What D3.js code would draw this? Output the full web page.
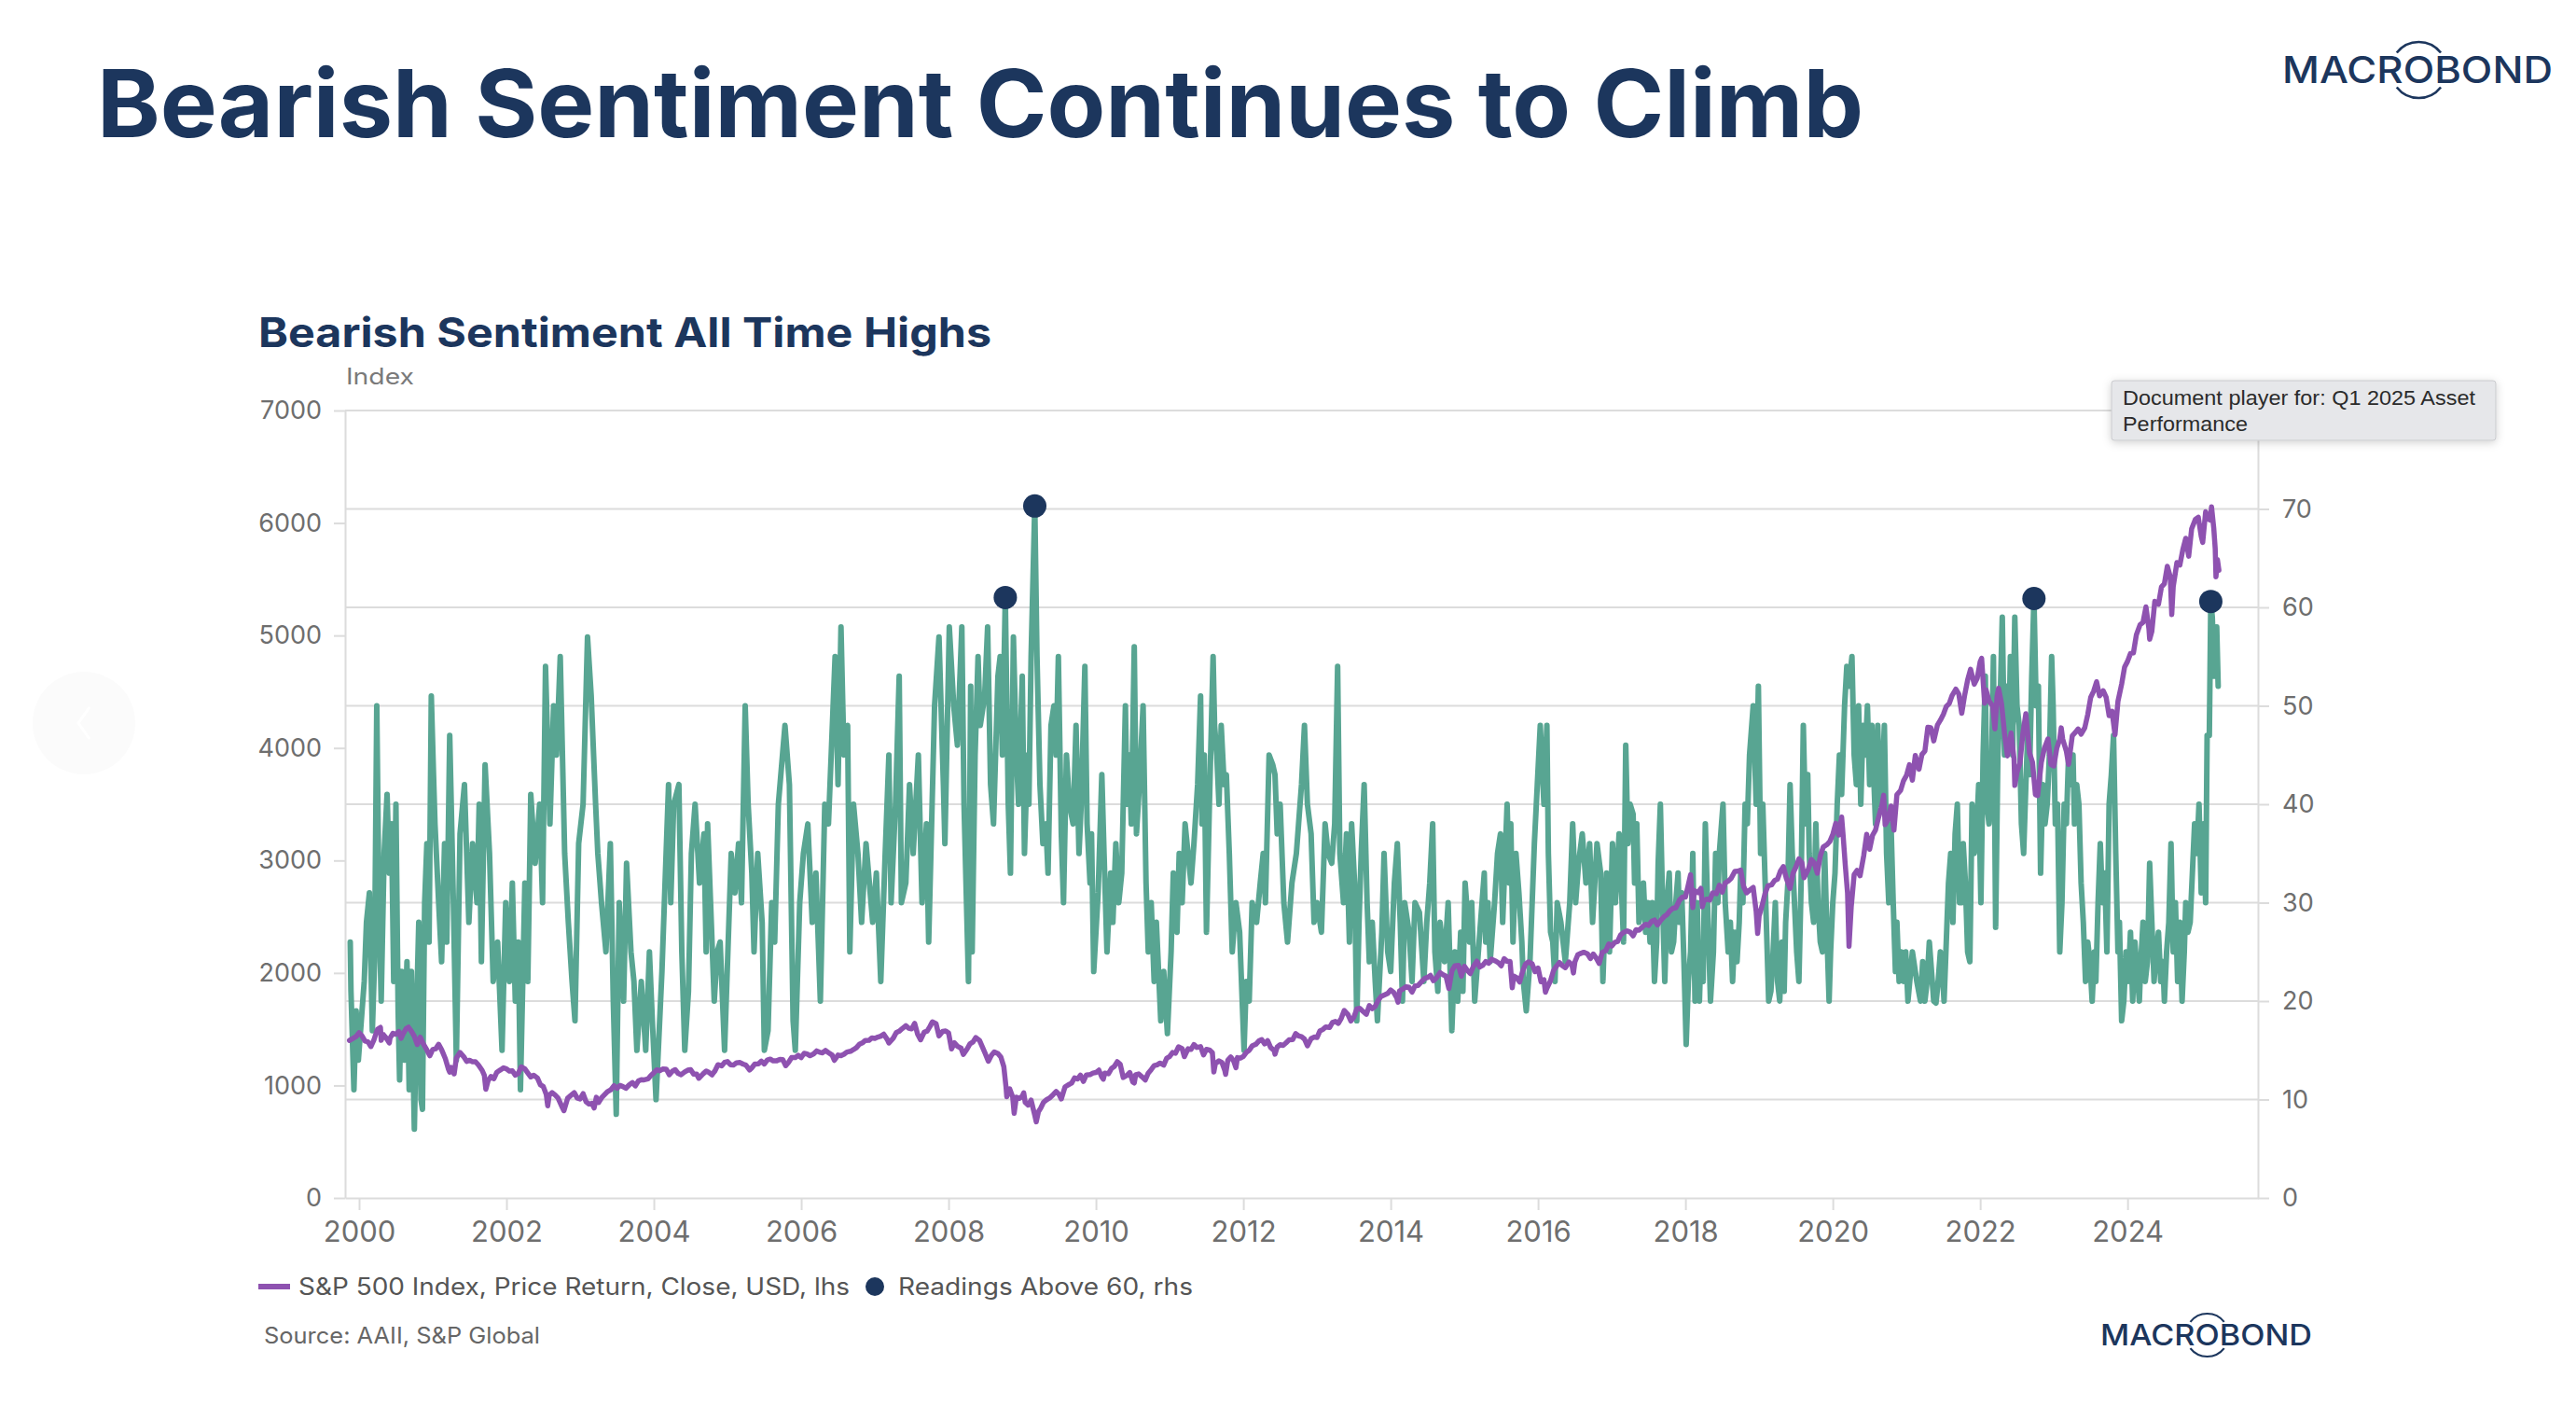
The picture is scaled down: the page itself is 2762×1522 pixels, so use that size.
<!DOCTYPE html>
<html>
<head>
<meta charset="utf-8">
<script src="https://cdn.jsdelivr.net/npm/d3@7/dist/d3.min.js"></script>
<style>
html,body{margin:0;padding:0;background:#fff;}
svg{display:block;}
</style>
</head>
<body>
<svg id="chart" width="2762" height="1522"></svg>
<script>
// ---------------- DATA ----------------
const titleText = "Bearish Sentiment Continues to Climb";
const subtitleText = "Bearish Sentiment All Time Highs";
const leftUnit = "Index";
const legendLabels = ["S&P 500 Index, Price Return, Close, USD, lhs", "Readings Above 60, rhs"];
const sourceText = "Source: AAII, S&P Global";
const leftTicks = [0, 1000, 2000, 3000, 4000, 5000, 6000, 7000];
const rightTicks = [0, 10, 20, 30, 40, 50, 60, 70];
const gridValues = [10, 20, 30, 40, 50, 60, 70, 80];
const yearTicks = [2000, 2002, 2004, 2006, 2008, 2010, 2012, 2014, 2016, 2018, 2020, 2022, 2024];

// S&P 500 close (lhs) : [decimal year, index level]
const sp500 = [
[1999.87,1400],[1999.92,1420],[1999.96,1435],[2000.0,1469],[2000.04,1441],[2000.08,1394],[2000.12,1388],[2000.16,1346],[2000.2,1402],[2000.23,1464],[2000.25,1498],[2000.29,1516],[2000.3,1401],[2000.33,1452],[2000.37,1420],[2000.41,1378],[2000.42,1421],[2000.46,1464],[2000.5,1455],[2000.54,1480],[2000.57,1419],[2000.6,1462],[2000.64,1506],[2000.67,1518],[2000.71,1481],[2000.75,1437],[2000.79,1364],[2000.83,1429],[2000.87,1372],[2000.92,1315],[2000.96,1264],
[2001.0,1320],[2001.04,1326],[2001.08,1366],[2001.12,1318],[2001.17,1240],[2001.21,1150],[2001.23,1118],[2001.25,1160],[2001.29,1103],[2001.32,1243],[2001.37,1293],[2001.42,1256],[2001.46,1214],[2001.5,1224],[2001.54,1210],[2001.58,1211],[2001.62,1182],[2001.67,1134],[2001.7,1089],[2001.72,966],[2001.75,1041],[2001.79,1080],[2001.83,1060],[2001.87,1118],[2001.92,1139],[2001.96,1157],
[2002.0,1148],[2002.04,1128],[2002.08,1130],[2002.12,1092],[2002.16,1107],[2002.2,1165],[2002.25,1147],[2002.29,1111],[2002.33,1076],[2002.37,1091],[2002.42,1067],[2002.46,1007],[2002.5,990],[2002.54,921],[2002.56,819],[2002.58,912],[2002.62,937],[2002.66,916],[2002.7,889],[2002.75,815],[2002.78,776],[2002.83,886],[2002.87,909],[2002.92,936],[2002.96,889],
[2003.0,880],[2003.04,927],[2003.08,856],[2003.12,835],[2003.16,841],[2003.19,800],[2003.22,895],[2003.25,848],[2003.29,890],[2003.33,917],[2003.37,945],[2003.42,964],[2003.46,998],[2003.5,975],[2003.54,1000],[2003.58,990],[2003.62,975],[2003.67,1008],[2003.71,1025],[2003.75,996],[2003.79,1040],[2003.83,1051],[2003.87,1050],[2003.92,1058],[2003.96,1089],
[2004.0,1112],[2004.04,1139],[2004.08,1131],[2004.12,1146],[2004.17,1145],[2004.21,1095],[2004.25,1126],[2004.29,1140],[2004.33,1107],[2004.37,1096],[2004.42,1121],[2004.46,1136],[2004.5,1141],[2004.54,1101],[2004.58,1102],[2004.61,1064],[2004.67,1104],[2004.71,1128],[2004.75,1115],[2004.79,1095],[2004.83,1130],[2004.87,1184],[2004.92,1174],[2004.96,1205],
[2005.0,1212],[2005.04,1184],[2005.08,1181],[2005.12,1200],[2005.17,1204],[2005.21,1190],[2005.25,1181],[2005.3,1137],[2005.33,1157],[2005.37,1190],[2005.42,1192],[2005.46,1216],[2005.5,1191],[2005.54,1227],[2005.58,1234],[2005.62,1219],[2005.67,1220],[2005.71,1231],[2005.75,1229],[2005.79,1176],[2005.83,1207],[2005.87,1248],[2005.92,1249],[2005.96,1268],
[2006.0,1248],[2006.04,1286],[2006.08,1280],[2006.12,1264],[2006.17,1281],[2006.21,1307],[2006.25,1295],[2006.29,1290],[2006.33,1311],[2006.37,1292],[2006.42,1270],[2006.45,1223],[2006.5,1270],[2006.54,1265],[2006.58,1277],[2006.62,1297],[2006.67,1304],[2006.71,1319],[2006.75,1336],[2006.79,1366],[2006.83,1378],[2006.87,1400],[2006.92,1401],[2006.96,1423],
[2007.0,1418],[2007.04,1430],[2007.08,1438],[2007.12,1456],[2007.17,1407],[2007.19,1377],[2007.25,1421],[2007.29,1470],[2007.33,1482],[2007.37,1505],[2007.42,1531],[2007.46,1509],[2007.5,1503],[2007.54,1552],[2007.58,1455],[2007.62,1406],[2007.67,1474],[2007.71,1484],[2007.75,1527],[2007.78,1565],[2007.83,1549],[2007.87,1440],[2007.92,1481],[2007.96,1484],
[2008.0,1468],[2008.04,1325],[2008.08,1379],[2008.12,1349],[2008.17,1331],[2008.2,1276],[2008.25,1323],[2008.29,1370],[2008.33,1386],[2008.37,1426],[2008.42,1400],[2008.46,1340],[2008.5,1280],[2008.54,1215],[2008.58,1267],[2008.62,1298],[2008.67,1283],[2008.71,1252],[2008.75,1166],[2008.78,985],[2008.79,899],[2008.83,969],[2008.87,899],[2008.89,752],[2008.92,896],[2008.96,885],
[2009.0,903],[2009.02,934],[2009.04,850],[2009.08,826],[2009.12,869],[2009.17,735],[2009.19,677],[2009.22,768],[2009.25,798],[2009.29,852],[2009.33,873],[2009.37,888],[2009.42,919],[2009.46,946],[2009.5,919],[2009.53,880],[2009.58,987],[2009.62,1004],[2009.67,1021],[2009.71,1068],[2009.75,1057],[2009.79,1092],[2009.83,1036],[2009.87,1093],[2009.92,1096],[2009.96,1110],
[2010.0,1115],[2010.04,1136],[2010.08,1074],[2010.1,1056],[2010.12,1110],[2010.17,1104],[2010.21,1150],[2010.25,1169],[2010.29,1211],[2010.33,1187],[2010.37,1071],[2010.42,1089],[2010.46,1115],[2010.5,1031],[2010.52,1022],[2010.54,1096],[2010.58,1102],[2010.62,1080],[2010.67,1049],[2010.71,1110],[2010.75,1141],[2010.79,1176],[2010.83,1183],[2010.87,1199],[2010.92,1181],[2010.96,1242],
[2011.0,1258],[2011.04,1293],[2011.08,1286],[2011.12,1343],[2011.17,1327],[2011.2,1256],[2011.25,1326],[2011.29,1320],[2011.33,1364],[2011.37,1338],[2011.42,1345],[2011.46,1272],[2011.5,1321],[2011.54,1316],[2011.58,1292],[2011.6,1120],[2011.62,1193],[2011.67,1219],[2011.71,1204],[2011.75,1131],[2011.76,1099],[2011.79,1224],[2011.83,1253],[2011.87,1216],[2011.9,1158],[2011.92,1247],[2011.96,1243],
[2012.0,1258],[2012.04,1293],[2012.08,1312],[2012.12,1351],[2012.17,1366],[2012.21,1395],[2012.25,1408],[2012.29,1370],[2012.33,1398],[2012.37,1338],[2012.42,1310],[2012.43,1278],[2012.46,1342],[2012.5,1362],[2012.54,1356],[2012.58,1379],[2012.62,1405],[2012.67,1407],[2012.71,1461],[2012.75,1441],[2012.79,1433],[2012.83,1412],[2012.87,1353],[2012.92,1416],[2012.96,1430],
[2013.0,1426],[2013.04,1485],[2013.08,1498],[2013.12,1520],[2013.17,1515],[2013.21,1560],[2013.25,1569],[2013.29,1552],[2013.33,1598],[2013.37,1667],[2013.42,1631],[2013.46,1573],[2013.5,1606],[2013.54,1680],[2013.58,1686],[2013.62,1661],[2013.67,1633],[2013.71,1709],[2013.75,1682],[2013.79,1703],[2013.83,1757],[2013.87,1791],[2013.92,1806],[2013.96,1818],
[2014.0,1848],[2014.04,1828],[2014.08,1783],[2014.1,1741],[2014.12,1840],[2014.17,1859],[2014.21,1878],[2014.25,1872],[2014.29,1830],[2014.33,1884],[2014.37,1888],[2014.42,1924],[2014.46,1950],[2014.5,1960],[2014.54,1978],[2014.58,1931],[2014.62,1955],[2014.67,2003],[2014.71,1985],[2014.75,1972],[2014.79,1862],[2014.83,2018],[2014.87,2063],[2014.92,2068],[2014.96,1972],
[2015.0,2059],[2015.04,2023],[2015.08,1995],[2015.12,2055],[2015.17,2105],[2015.21,2053],[2015.25,2068],[2015.29,2102],[2015.33,2086],[2015.37,2122],[2015.42,2107],[2015.46,2092],[2015.5,2063],[2015.54,2127],[2015.58,2104],[2015.62,2102],[2015.65,1868],[2015.67,1972],[2015.71,1958],[2015.75,1920],[2015.79,2014],[2015.83,2079],[2015.87,2099],[2015.92,2080],[2015.96,2012],
[2016.0,2044],[2016.04,1922],[2016.08,1940],[2016.1,1829],[2016.12,1864],[2016.17,1932],[2016.21,2022],[2016.25,2060],[2016.29,2092],[2016.33,2065],[2016.37,2047],[2016.42,2097],[2016.46,2071],[2016.48,2000],[2016.5,2099],[2016.54,2163],[2016.58,2174],[2016.62,2184],[2016.67,2171],[2016.71,2128],[2016.75,2168],[2016.79,2133],[2016.83,2085],[2016.87,2182],[2016.92,2199],[2016.96,2258],
[2017.0,2239],[2017.04,2271],[2017.08,2279],[2017.12,2337],[2017.17,2364],[2017.21,2374],[2017.25,2363],[2017.29,2329],[2017.33,2384],[2017.37,2381],[2017.42,2412],[2017.46,2433],[2017.5,2423],[2017.54,2459],[2017.58,2470],[2017.62,2428],[2017.67,2472],[2017.71,2500],[2017.75,2519],[2017.79,2553],[2017.83,2575],[2017.87,2579],[2017.92,2648],[2017.96,2675],
[2018.0,2674],[2018.04,2786],[2018.07,2873],[2018.1,2581],[2018.12,2732],[2018.17,2714],[2018.21,2752],[2018.23,2588],[2018.25,2641],[2018.29,2657],[2018.33,2648],[2018.37,2712],[2018.42,2705],[2018.46,2779],[2018.5,2718],[2018.54,2801],[2018.58,2816],[2018.62,2840],[2018.67,2902],[2018.71,2905],[2018.75,2914],[2018.79,2768],[2018.83,2712],[2018.87,2736],[2018.92,2760],[2018.96,2546],[2018.98,2351],
[2019.0,2507],[2019.04,2597],[2019.08,2704],[2019.12,2775],[2019.17,2784],[2019.21,2822],[2019.25,2834],[2019.29,2907],[2019.33,2946],[2019.37,2840],[2019.42,2752],[2019.46,2886],[2019.5,2942],[2019.54,3014],[2019.58,2980],[2019.61,2847],[2019.67,2926],[2019.71,3007],[2019.75,2977],[2019.79,2887],[2019.83,3038],[2019.87,3120],[2019.92,3141],[2019.96,3169],
[2020.0,3231],[2020.04,3330],[2020.08,3226],[2020.12,3386],[2020.14,3225],[2020.17,2954],[2020.2,2711],[2020.22,2237],[2020.25,2585],[2020.29,2875],[2020.33,2912],[2020.37,2864],[2020.42,3044],[2020.46,3232],[2020.5,3100],[2020.54,3224],[2020.58,3271],[2020.62,3380],[2020.67,3500],[2020.69,3580],[2020.71,3319],[2020.75,3363],[2020.79,3484],[2020.83,3270],[2020.87,3585],[2020.92,3622],[2020.96,3709],
[2021.0,3756],[2021.04,3851],[2021.08,3714],[2021.12,3934],[2021.17,3811],[2021.21,3943],[2021.25,3973],[2021.29,4185],[2021.33,4181],[2021.37,4063],[2021.42,4204],[2021.46,4247],[2021.5,4298],[2021.54,4369],[2021.58,4395],[2021.62,4468],[2021.67,4523],[2021.71,4480],[2021.75,4308],[2021.79,4471],[2021.83,4605],[2021.87,4700],[2021.92,4567],[2021.96,4620],
[2022.0,4766],[2022.02,4797],[2022.06,4398],[2022.08,4516],[2022.12,4418],[2022.17,4374],[2022.2,4170],[2022.23,4463],[2022.25,4530],[2022.29,4393],[2022.33,4132],[2022.37,3930],[2022.42,4132],[2022.46,3900],[2022.47,3667],[2022.5,3785],[2022.54,3863],[2022.58,4130],[2022.62,4305],[2022.67,3955],[2022.71,3873],[2022.75,3586],[2022.78,3577],[2022.83,3872],[2022.87,3993],[2022.92,4080],[2022.96,3852],
[2023.0,3840],[2023.04,3999],[2023.08,4077],[2023.1,4179],[2023.12,4079],[2023.17,3970],[2023.2,3855],[2023.25,4109],[2023.29,4137],[2023.33,4169],[2023.37,4124],[2023.42,4180],[2023.46,4298],[2023.5,4450],[2023.54,4505],[2023.58,4589],[2023.62,4464],[2023.67,4508],[2023.71,4450],[2023.75,4288],[2023.79,4327],[2023.83,4117],[2023.87,4415],[2023.92,4568],[2023.96,4719],
[2024.0,4770],[2024.04,4840],[2024.08,4846],[2024.12,5006],[2024.17,5096],[2024.21,5117],[2024.25,5254],[2024.29,5061],[2024.3,4967],[2024.33,5036],[2024.37,5303],[2024.42,5278],[2024.46,5431],[2024.5,5460],[2024.54,5615],[2024.58,5522],[2024.6,5186],[2024.62,5434],[2024.67,5648],[2024.71,5626],[2024.75,5762],[2024.79,5864],[2024.83,5705],[2024.87,5949],[2024.92,6032],[2024.96,6051],
[2025.0,5882],[2025.02,5827],[2025.06,6101],[2025.08,6041],[2025.12,6026],[2025.14,6144],[2025.17,5955],[2025.19,5770],[2025.2,5522],[2025.22,5675],[2025.24,5580]
];

// AAII bearish sentiment % (rhs) : [decimal year, percent]
const bearish = [
[1999.88,26],[1999.89,21],[1999.93,11],[1999.96,19],[1999.99,14],[2000.03,18],[2000.07,22],[2000.10,28],[2000.14,31],[2000.18,17],[2000.21,24],[2000.24,50],[2000.27,30],[2000.30,20],[2000.34,35],[2000.38,41],[2000.41,33],[2000.44,38],[2000.47,22],[2000.50,40],[2000.53,19],[2000.55,12],[2000.58,23],[2000.61,14],[2000.65,24],[2000.68,11],[2000.71,23],[2000.75,7],[2000.78,19],[2000.81,28],[2000.84,10],[2000.86,9],[2000.89,30],[2000.92,36],[2000.95,26],[2000.98,51],
[2001.01,43],[2001.03,38],[2001.08,30],[2001.12,24],[2001.16,36],[2001.19,26],[2001.23,47],[2001.28,30],[2001.32,14],[2001.37,37],[2001.43,42],[2001.49,28],[2001.54,36],[2001.60,30],[2001.63,40],[2001.66,24],[2001.71,44],[2001.77,35],[2001.82,22],[2001.88,26],[2001.94,15],[2001.99,30],
[2002.04,22],[2002.08,32],[2002.12,20],[2002.16,26],[2002.19,11],[2002.25,32],[2002.29,22],[2002.33,41],[2002.39,34],[2002.45,40],[2002.49,30],[2002.53,54],[2002.59,38],[2002.64,50],[2002.68,45],[2002.73,55],[2002.79,35],[2002.84,28],[2002.89,22],[2002.93,18],[2002.98,36],
[2003.04,40],[2003.10,57],[2003.15,51],[2003.21,40],[2003.24,35],[2003.29,30],[2003.35,25],[2003.41,36],[2003.45,20],[2003.49,8.5],[2003.53,30],[2003.59,20],[2003.63,34],[2003.69,25],[2003.73,22],[2003.77,15],[2003.83,22],[2003.89,15],[2003.94,25],[2003.98,18],
[2004.03,10],[2004.11,23],[2004.20,42],[2004.23,30],[2004.27,40],[2004.34,42],[2004.38,25],[2004.42,15],[2004.47,21],[2004.51,35],[2004.56,40],[2004.62,32],[2004.68,37],[2004.71,25],[2004.73,38],[2004.77,30],[2004.82,20],[2004.86,25],[2004.90,26],[2004.96,15],
[2005.05,35],[2005.10,31],[2005.15,36],[2005.19,30],[2005.24,50],[2005.28,40],[2005.33,33],[2005.36,25],[2005.41,35],[2005.47,28],[2005.50,15],[2005.55,17],[2005.60,30],[2005.64,26],[2005.69,40],[2005.78,48],[2005.84,42],[2005.89,18],[2005.92,15],[2005.98,30],
[2006.03,35],[2006.09,38],[2006.15,28],[2006.20,33],[2006.26,20],[2006.32,40],[2006.37,38],[2006.46,55],[2006.50,42],[2006.54,58],[2006.58,45],[2006.63,48],[2006.66,25],[2006.71,40],[2006.77,35],[2006.82,28],[2006.88,36],[2006.97,28],
[2007.02,33],[2007.08,22],[2007.14,35],[2007.19,45],[2007.22,30],[2007.28,40],[2007.33,53],[2007.36,30],[2007.42,32],[2007.47,42],[2007.52,35],[2007.59,45],[2007.64,30],[2007.70,38],[2007.73,26],[2007.81,50],[2007.87,57],[2007.93,42],[2007.95,36],
[2008.01,58],[2008.07,50],[2008.12,46],[2008.18,58],[2008.21,40],[2008.27,22],[2008.30,52],[2008.32,25],[2008.36,45],[2008.40,55],[2008.43,48],[2008.49,51],[2008.53,58],[2008.57,42],[2008.61,38],[2008.67,53],[2008.70,55],[2008.73,45],[2008.77,61.0],[2008.81,40],[2008.84,33],[2008.88,57],[2008.92,45],[2008.95,40],
[2009.00,53],[2009.03,35],[2009.07,45],[2009.09,40],[2009.12,55],[2009.17,70.3],[2009.20,55],[2009.24,42],[2009.28,36],[2009.32,38],[2009.35,33],[2009.39,48],[2009.43,50],[2009.46,45],[2009.49,55],[2009.53,37],[2009.56,30],[2009.60,45],[2009.64,40],[2009.69,38],[2009.73,48],[2009.77,35],[2009.80,40],[2009.85,54],[2009.88,38],[2009.92,32],[2009.94,37],[2009.97,23],
[2010.03,31],[2010.08,43],[2010.11,35],[2010.15,25],[2010.20,33],[2010.23,28],[2010.27,36],[2010.31,30],[2010.35,33],[2010.40,50],[2010.42,40],[2010.45,45],[2010.48,38],[2010.52,56],[2010.55,37],[2010.59,42],[2010.64,50],[2010.68,32],[2010.71,25],[2010.75,30],[2010.79,22],[2010.82,28],[2010.88,18],[2010.92,23],[2010.97,16.7],
[2011.02,25],[2011.05,33],[2011.10,27],[2011.13,35],[2011.17,30],[2011.21,38],[2011.25,35],[2011.29,32],[2011.33,36],[2011.38,42],[2011.42,51],[2011.44,38],[2011.47,45],[2011.50,27],[2011.54,40],[2011.59,55],[2011.61,48],[2011.64,45],[2011.67,40],[2011.70,48],[2011.74,42],[2011.77,43],[2011.81,35],[2011.85,25],[2011.90,30],[2011.95,27],
[2012.01,15],[2012.04,22],[2012.08,20],[2012.12,30],[2012.18,28],[2012.23,32],[2012.27,35],[2012.30,30],[2012.35,45],[2012.40,44],[2012.43,43],[2012.46,37],[2012.50,40],[2012.55,30],[2012.60,26],[2012.66,32],[2012.72,35],[2012.75,38],[2012.79,42],[2012.83,48],[2012.87,40],[2012.92,37],[2012.96,28],
[2013.00,30],[2013.06,27],[2013.11,38],[2013.15,35],[2013.20,34],[2013.24,38],[2013.28,54],[2013.31,35],[2013.36,30],[2013.40,37],[2013.44,26],[2013.47,38],[2013.51,32],[2013.54,18],[2013.57,28],[2013.60,35],[2013.64,42],[2013.68,30],[2013.71,24],[2013.75,28],[2013.79,22],[2013.82,18],[2013.88,27],[2013.91,35],[2013.96,25],
[2014.00,23],[2014.05,32],[2014.09,36],[2014.13,28],[2014.16,20],[2014.19,30],[2014.25,27],[2014.29,22],[2014.33,30],[2014.39,29],[2014.45,22],[2014.49,28],[2014.53,32],[2014.57,38],[2014.60,25],[2014.64,21],[2014.67,28],[2014.73,24],[2014.78,30],[2014.83,17],[2014.87,25],[2014.91,20],[2014.95,27],[2014.98,21],
[2015.01,32],[2015.07,26],[2015.10,30],[2015.14,20],[2015.18,24],[2015.23,29],[2015.27,33],[2015.29,26],[2015.32,30],[2015.35,24],[2015.41,30],[2015.45,35],[2015.49,37],[2015.52,28],[2015.58,40],[2015.61,32],[2015.63,38],[2015.66,26],[2015.70,35],[2015.74,31],[2015.78,26],[2015.80,22],[2015.84,19],[2015.89,24],[2015.95,36],[2015.99,42],
[2016.03,48],[2016.08,40],[2016.12,48],[2016.14,35],[2016.17,27],[2016.20,26],[2016.23,22],[2016.26,30],[2016.31,28],[2016.37,24],[2016.43,30],[2016.47,38],[2016.51,30],[2016.55,34],[2016.60,37],[2016.65,32],[2016.70,36],[2016.74,28],[2016.80,36],[2016.85,33],[2016.88,22],[2016.93,33],[2016.97,25],
[2017.01,36],[2017.05,30],[2017.10,37],[2017.13,32],[2017.16,26],[2017.19,46],[2017.22,36],[2017.25,40],[2017.29,39],[2017.31,32],[2017.34,38],[2017.37,28],[2017.41,30],[2017.43,32],[2017.46,27],[2017.49,30],[2017.52,26],[2017.55,30],[2017.58,22],[2017.61,26],[2017.63,34],[2017.66,40],[2017.69,30],[2017.72,22],[2017.75,30],[2017.78,33],[2017.81,25],[2017.84,26],[2017.87,30],[2017.90,33],[2017.92,28],[2017.95,31],[2017.98,24],
[2018.01,15.6],[2018.04,22],[2018.07,25],[2018.10,35],[2018.13,20],[2018.16,30],[2018.19,20],[2018.21,25],[2018.24,22],[2018.27,38],[2018.30,30],[2018.34,20],[2018.38,25],[2018.41,35],[2018.44,30],[2018.46,35],[2018.51,40],[2018.54,30],[2018.58,25],[2018.61,28],[2018.64,22],[2018.67,27],[2018.70,24],[2018.73,28],[2018.75,33],[2018.78,30],[2018.81,40],[2018.84,38],[2018.87,45],[2018.92,50],[2018.96,40],[2018.99,52],
[2019.02,35],[2019.05,40],[2019.09,30],[2019.13,20],[2019.16,21],[2019.19,25],[2019.22,30],[2019.25,22],[2019.28,20],[2019.31,26],[2019.34,21],[2019.36,28],[2019.39,32],[2019.42,42],[2019.45,35],[2019.48,30],[2019.51,25],[2019.54,22],[2019.57,32],[2019.60,48],[2019.63,38],[2019.66,43],[2019.68,35],[2019.71,30],[2019.74,28],[2019.77,38],[2019.80,30],[2019.83,26],[2019.86,25],[2019.89,35],[2019.92,27],[2019.95,20],[2019.97,25],
[2020.00,30],[2020.03,33],[2020.06,40],[2020.09,45],[2020.12,41],[2020.16,50],[2020.19,54],[2020.22,52],[2020.26,55],[2020.29,45],[2020.32,42],[2020.35,50],[2020.38,40],[2020.41,48],[2020.44,45],[2020.47,50],[2020.50,42],[2020.53,48],[2020.56,42],[2020.58,38],[2020.61,48],[2020.64,40],[2020.67,42],[2020.70,48],[2020.73,35],[2020.76,30],[2020.79,38],[2020.82,30],[2020.85,23],[2020.87,28],[2020.90,22],[2020.93,25],[2020.96,22],[2020.99,25],
[2021.02,20],[2021.08,25],[2021.14,22],[2021.19,20],[2021.22,24],[2021.25,20],[2021.28,22],[2021.31,26],[2021.37,20],[2021.40,19.8],[2021.43,22],[2021.46,25],[2021.48,24],[2021.51,20],[2021.54,26],[2021.57,32],[2021.60,35],[2021.63,28],[2021.66,37],[2021.69,40],[2021.72,30],[2021.75,30],[2021.77,36],[2021.80,32],[2021.83,25],[2021.86,24],[2021.89,40],[2021.92,35],[2021.95,37],[2021.98,42],
[2022.01,30],[2022.04,45],[2022.07,53],[2022.09,40],[2022.12,38],[2022.15,42],[2022.18,55],[2022.21,27.5],[2022.24,45],[2022.27,50],[2022.30,59],[2022.33,45],[2022.36,52],[2022.39,47],[2022.41,55],[2022.44,45],[2022.47,59],[2022.50,50],[2022.53,48],[2022.56,38],[2022.59,35],[2022.62,42],[2022.65,48],[2022.67,43],[2022.70,53],[2022.73,60.9],[2022.76,50],[2022.79,52],[2022.82,33],[2022.85,42],[2022.88,38],[2022.91,40],[2022.94,45],[2022.97,55],[2022.99,50],
[2023.02,38],[2023.05,40],[2023.08,25],[2023.11,30],[2023.14,40],[2023.17,38],[2023.20,45],[2023.23,42],[2023.26,45],[2023.28,38],[2023.31,42],[2023.34,40],[2023.37,32],[2023.40,28],[2023.43,22],[2023.46,26],[2023.49,24],[2023.52,20],[2023.55,25],[2023.57,22],[2023.60,30],[2023.63,36],[2023.66,30],[2023.69,33],[2023.72,25],[2023.75,40],[2023.78,43],[2023.81,47],[2023.84,35],[2023.87,25],[2023.89,28],[2023.92,18],[2023.95,20],[2023.98,25],
[2024.01,22],[2024.04,27],[2024.07,20],[2024.10,26],[2024.13,23],[2024.16,20],[2024.18,24],[2024.21,28],[2024.24,22],[2024.27,24],[2024.30,34],[2024.33,28],[2024.36,22],[2024.39,25],[2024.42,27],[2024.45,22],[2024.48,24],[2024.50,20],[2024.53,25],[2024.56,28],[2024.59,36],[2024.62,25],[2024.65,30],[2024.68,22],[2024.71,28],[2024.74,20],[2024.77,25],[2024.79,30],[2024.82,27],[2024.85,28],[2024.88,33],[2024.91,38],[2024.94,35],[2024.97,40],
[2025.00,31],[2025.03,38],[2025.06,30],[2025.08,47],[2025.11,47],[2025.13,60.6],[2025.15,59],[2025.18,53],[2025.21,58],[2025.23,52]
];

// Readings above 60 (rhs markers)
const above60 = [[2008.77,61.0],[2009.17,70.3],[2022.73,60.9],[2025.13,60.6]];

// ---------------- STYLE ----------------
const FONT = "Inter, 'Open Sans', 'DejaVu Sans', sans-serif";
const NAVY = "#1c365d";
const TEAL = "#58a592";
const PURPLE = "#8e52b0";
const GRID = "#dcdcdc";
const TICKTXT = "#6e6e6e";

const svg = d3.select("#chart");

// scales
const x = d3.scaleLinear().domain([1999.81, 2025.77]).range([370, 2421]);
const yL = d3.scaleLinear().domain([0, 7000]).range([1284, 440]);
const yR = d3.scaleLinear().domain([0, 80]).range([1284, 440]);

// faint nav circle at left
const nav = svg.append("g");
nav.append("circle").attr("cx", 90).attr("cy", 775).attr("r", 55).attr("fill", "#fbfbfb");
nav.append("path").attr("d", "M96,758 L84,775 L96,792").attr("fill", "none").attr("stroke", "#ffffff").attr("stroke-width", 3);

function fitText(sel, width) {
  sel.attr("textLength", width).attr("lengthAdjust", "spacingAndGlyphs");
  return sel;
}
// title
fitText(svg.append("text").attr("x", 104).attr("y", 147)
  .attr("font-family", FONT).attr("font-weight", 700).attr("font-size", 101)
  .attr("fill", NAVY).text(titleText), 1894);

fitText(svg.append("text").attr("x", 277).attr("y", 372)
  .attr("font-family", FONT).attr("font-weight", 700).attr("font-size", 44)
  .attr("fill", NAVY).text(subtitleText), 786);

fitText(svg.append("text").attr("x", 371).attr("y", 412)
  .attr("font-family", FONT).attr("font-weight", 400).attr("font-size", 24)
  .attr("fill", "#7a7a7a").text(leftUnit), 73);

// gridlines (rhs grid)
svg.append("g").selectAll("line").data(gridValues).join("line")
  .attr("x1", 370).attr("x2", 2421)
  .attr("y1", d => yR(d)).attr("y2", d => yR(d))
  .attr("stroke", GRID).attr("stroke-width", 2);

// axes
function styleAxis(g) {
  g.selectAll(".domain").attr("stroke", GRID).attr("stroke-width", 2);
  g.selectAll(".tick line").attr("stroke", GRID).attr("stroke-width", 2);
  g.selectAll(".tick text").attr("fill", TICKTXT).attr("font-family", FONT);
}

const gL = svg.append("g").attr("transform", "translate(370,0)")
  .call(d3.axisLeft(yL).tickValues(leftTicks).tickFormat(d3.format("d")).tickSize(12).tickSizeOuter(0).tickPadding(13));
styleAxis(gL);
gL.selectAll(".tick text").attr("font-size", 27);

const gR = svg.append("g").attr("transform", "translate(2421,0)")
  .call(d3.axisRight(yR).tickValues(rightTicks).tickFormat(d3.format("d")).tickSize(12).tickSizeOuter(0).tickPadding(14));
styleAxis(gR);
gR.selectAll(".tick text").attr("font-size", 27);

const gX = svg.append("g").attr("transform", "translate(0,1284)")
  .call(d3.axisBottom(x).tickValues(yearTicks).tickFormat(d3.format("d")).tickSize(13).tickSizeOuter(0));
styleAxis(gX);
gX.selectAll(".tick text").attr("font-size", 31).attr("dy", null).attr("y", 47);

// bearish sentiment line (rhs)
const lineR = d3.line().x(d => x(d[0])).y(d => yR(d[1]));
svg.append("path").datum(bearish).attr("d", lineR)
  .attr("fill", "none").attr("stroke", TEAL).attr("stroke-width", 6)
  .attr("stroke-linejoin", "round").attr("stroke-linecap", "round");

// S&P 500 line (lhs)
const lineL = d3.line().x(d => x(d[0])).y(d => yL(d[1]));
svg.append("path").datum(sp500).attr("d", lineL)
  .attr("fill", "none").attr("stroke", PURPLE).attr("stroke-width", 5.5)
  .attr("stroke-linejoin", "round").attr("stroke-linecap", "round");

// readings above 60 markers
svg.append("g").selectAll("circle").data(above60).join("circle")
  .attr("cx", d => x(d[0])).attr("cy", d => yR(d[1]))
  .attr("r", 12.5).attr("fill", NAVY);

// legend
svg.append("line").attr("x1", 277).attr("x2", 311).attr("y1", 1379).attr("y2", 1379)
  .attr("stroke", PURPLE).attr("stroke-width", 6);
fitText(svg.append("text").attr("x", 320).attr("y", 1388)
  .attr("font-family", FONT).attr("font-size", 25).attr("fill", "#555")
  .text(legendLabels[0]), 591);
svg.append("circle").attr("cx", 938).attr("cy", 1379).attr("r", 10).attr("fill", NAVY);
fitText(svg.append("text").attr("x", 963).attr("y", 1388)
  .attr("font-family", FONT).attr("font-size", 25).attr("fill", "#555")
  .text(legendLabels[1]), 316);

// source
fitText(svg.append("text").attr("x", 283).attr("y", 1440)
  .attr("font-family", FONT).attr("font-size", 24).attr("fill", "#666")
  .text(sourceText), 296);

// logos
function logo(xLeft, baseline, size, width, cy, r, sw) {
  const t = svg.append("text").attr("x", xLeft).attr("y", baseline)
    .attr("font-family", FONT).attr("font-weight", 500).attr("font-size", size)
    .attr("fill", NAVY).text("MACROBOND");
  fitText(t, width);
  let cx;
  try {
    const ext = t.node().getExtentOfChar(4);
    cx = ext.x + ext.width / 2;
  } catch (e) { cx = xLeft + width * 0.49; }
  const a = 52 * Math.PI / 180;
  const p = (ang) => [cx + r * Math.sin(ang), cy - r * Math.cos(ang)];
  const [x1, y1] = p(-a), [x2, y2] = p(a);
  const [x3, y3] = p(Math.PI - a), [x4, y4] = p(Math.PI + a);
  svg.append("path").attr("d", `M${x1},${y1} A${r},${r} 0 0 1 ${x2},${y2}`)
    .attr("fill", "none").attr("stroke", NAVY).attr("stroke-width", sw);
  svg.append("path").attr("d", `M${x3},${y3} A${r},${r} 0 0 1 ${x4},${y4}`)
    .attr("fill", "none").attr("stroke", NAVY).attr("stroke-width", sw);
}
logo(2447, 89, 39, 290, 75, 30, 2.6);
logo(2252, 1442, 31, 227, 1431, 23, 2.2);

// tooltip
const defs = svg.append("defs");
const f = defs.append("filter").attr("id", "shadow").attr("x", "-10%").attr("y", "-30%").attr("width", "120%").attr("height", "170%");
f.append("feDropShadow").attr("dx", 0).attr("dy", 2).attr("stdDeviation", 5).attr("flood-color", "#000").attr("flood-opacity", 0.18);
svg.append("rect").attr("x", 2264).attr("y", 408).attr("width", 412).attr("height", 64).attr("rx", 3)
  .attr("fill", "#e6e7ea").attr("stroke", "#c9cacd").attr("stroke-width", 1).attr("filter", "url(#shadow)");
const TTFONT = "'Liberation Sans', Arial, Helvetica, sans-serif";
fitText(svg.append("text").attr("x", 2276).attr("y", 434).attr("font-family", TTFONT).attr("font-size", 22)
  .attr("fill", "#2b2b2b").text("Document player for: Q1 2025 Asset"), 378);
fitText(svg.append("text").attr("x", 2276).attr("y", 462).attr("font-family", TTFONT).attr("font-size", 22)
  .attr("fill", "#2b2b2b").text("Performance"), 134);
</script>
</body>
</html>
